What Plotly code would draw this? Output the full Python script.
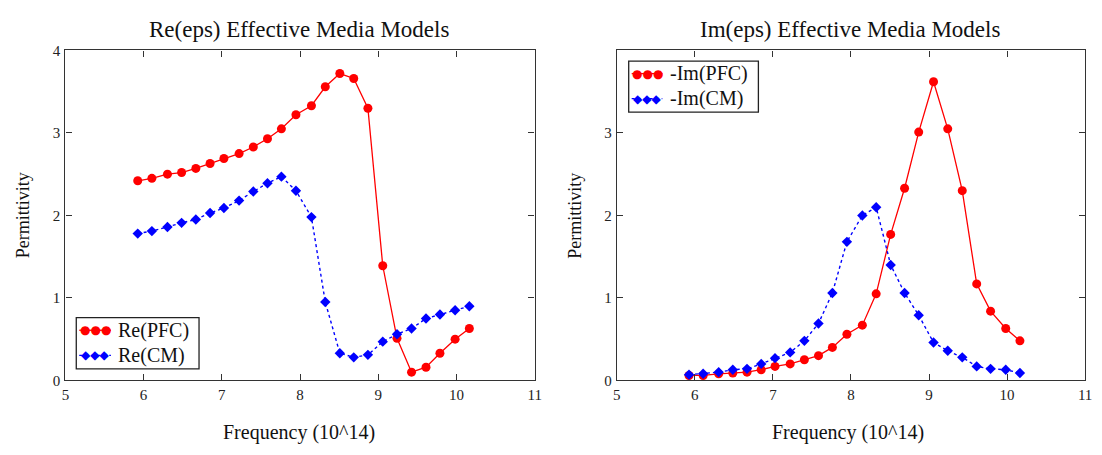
import plotly.graph_objects as go

# Frequency samples (units of 10^14)
freq = [5.925, 6.106, 6.305, 6.486, 6.668, 6.850, 7.027, 7.221, 7.403, 7.584,
        7.762, 7.948, 8.146, 8.323, 8.509, 8.687, 8.868, 9.058, 9.240, 9.426,
        9.611, 9.789, 9.983, 10.165]

# Real part of permittivity
re_pfc = [2.42, 2.45, 2.50, 2.52, 2.57, 2.63, 2.69, 2.75, 2.83, 2.93,
          3.05, 3.22, 3.33, 3.56, 3.72, 3.66, 3.30, 1.39, 0.51, 0.10,
          0.16, 0.33, 0.50, 0.63]
re_cm = [1.78, 1.81, 1.86, 1.91, 1.95, 2.03, 2.09, 2.18, 2.29, 2.39,
         2.47, 2.30, 1.98, 0.95, 0.33, 0.28, 0.31, 0.47, 0.56, 0.63,
         0.75, 0.80, 0.85, 0.90]

# Negative imaginary part of permittivity
im_pfc = [0.06, 0.06, 0.08, 0.09, 0.10, 0.13, 0.17, 0.20, 0.25, 0.30,
          0.40, 0.56, 0.67, 1.05, 1.77, 2.33, 3.01, 3.62, 3.05, 2.30,
          1.17, 0.84, 0.63, 0.48]
im_cm = [0.07, 0.08, 0.10, 0.13, 0.14, 0.20, 0.27, 0.34, 0.48, 0.69,
         1.06, 1.68, 2.00, 2.10, 1.40, 1.06, 0.79, 0.46, 0.36, 0.28,
         0.17, 0.14, 0.13, 0.09]

x_ticks = [5, 6, 7, 8, 9, 10, 11]
y_ticks_re = [0, 1, 2, 3, 4]
y_ticks_im = [0, 1, 2, 3]

titles = ["Re(eps) Effective Media Models", "Im(eps) Effective Media Models"]
x_title = "Frequency (10^14)"
y_title = "Permittivity"
legend_re = ["Re(PFC)", "Re(CM)"]
legend_im = ["-Im(PFC)", "-Im(CM)"]

W, H = 1102, 455
RED, BLUE = "#ff0000", "#0000ff"
SERIF = "Liberation Serif, Times New Roman, serif"


def px(x):
    return x / W


def py(y):
    return 1 - y / H


fig = go.Figure()

panels = [
    dict(xa="x", ya="y", pfc=re_pfc, cm=re_cm, names=legend_re),
    dict(xa="x2", ya="y2", pfc=im_pfc, cm=im_cm, names=legend_im),
]
for p in panels:
    fig.add_trace(go.Scatter(
        x=freq, y=p["pfc"], xaxis=p["xa"], yaxis=p["ya"], name=p["names"][0],
        mode="lines+markers", line=dict(color=RED, width=1.3),
        marker=dict(symbol="circle", size=9, color=RED), showlegend=False))
    fig.add_trace(go.Scatter(
        x=freq, y=p["cm"], xaxis=p["xa"], yaxis=p["ya"], name=p["names"][1],
        mode="lines+markers", line=dict(color=BLUE, width=1.4, dash="dot"),
        marker=dict(symbol="diamond", size=8, color=BLUE), showlegend=False))

# plot-area pixel boxes (left, right, top, bottom)
boxes = [(62, 536, 44, 386), (619, 1092, 44, 386)]

axis_common = dict(
    showline=True, linecolor="#333333", linewidth=1.3, mirror="ticks",
    ticks="inside", ticklen=6, tickwidth=1.2, tickcolor="#333333",
    showgrid=False, zeroline=False,
    tickfont=dict(family=SERIF, size=15, color="#222222"),
)

fig.update_layout(
    xaxis=dict(domain=[px(boxes[0][0]), px(boxes[0][1])], range=[5, 11],
               tickvals=x_ticks, anchor="y", **axis_common),
    yaxis=dict(domain=[py(boxes[0][3]), py(boxes[0][2])], range=[0, 4],
               tickvals=y_ticks_re, anchor="x", ticklabelstandoff=1, **axis_common),
    xaxis2=dict(domain=[px(boxes[1][0]), px(boxes[1][1])], range=[5, 11],
                tickvals=x_ticks, anchor="y2", **axis_common),
    yaxis2=dict(domain=[py(boxes[1][3]), py(boxes[1][2])], range=[0, 4],
                tickvals=y_ticks_im, anchor="x2", ticklabelstandoff=1, **axis_common),
)

annotations = []
shapes = []

# titles and axis titles
title_cx = [298, 855]
xt_cx = [298, 853]
yt_cx = [20, 577]
for i in range(2):
    annotations.append(dict(
        x=px(title_cx[i]), y=py(22), xref="paper", yref="paper",
        text=titles[i], showarrow=False, xanchor="center", yanchor="middle",
        font=dict(family=SERIF, size=23, color="#111111")))
    annotations.append(dict(
        x=px(xt_cx[i]), y=py(440), xref="paper", yref="paper",
        text=x_title, showarrow=False, xanchor="center", yanchor="middle",
        font=dict(family=SERIF, size=20, color="#111111")))
    annotations.append(dict(
        x=px(yt_cx[i]), y=py(215), xref="paper", yref="paper",
        text=y_title, showarrow=False, xanchor="center", yanchor="middle",
        textangle=-90, font=dict(family=SERIF, size=18, color="#111111")))

# legend boxes: (left, top, right, bottom), row centres, symbol x, text x
legends = [
    dict(box=(73, 321, 197, 374), rows=(334, 360), sx=(76, 108), tx=113, names=legend_re),
    dict(box=(631, 55, 762, 108), rows=(68, 94), sx=(634, 665), tx=671, names=legend_im),
]
for lg in legends:
    l, t, r, b = lg["box"]
    shapes.append(dict(type="rect", xref="paper", yref="paper",
                       x0=px(l), x1=px(r), y0=py(b), y1=py(t),
                       line=dict(color="#222222", width=1.3), fillcolor="white",
                       layer="above"))
    for k, (sym, col, dash) in enumerate([("●●●", RED, "solid"), ("◆◆◆", BLUE, "dot")]):
        yc = lg["rows"][k]
        shapes.append(dict(type="line", xref="paper", yref="paper",
                           x0=px(lg["sx"][0]), x1=px(lg["sx"][1]),
                           y0=py(yc), y1=py(yc),
                           line=dict(color=col, width=1.3, dash=dash), layer="above"))
        annotations.append(dict(
            x=px((lg["sx"][0] + lg["sx"][1]) / 2), y=py(yc), xref="paper", yref="paper",
            text=sym, showarrow=False, xanchor="center", yanchor="middle",
            font=dict(family="DejaVu Sans", size=12, color=col)))
        annotations.append(dict(
            x=px(lg["tx"]), y=py(yc), xref="paper", yref="paper",
            text=lg["names"][k], showarrow=False, xanchor="left", yanchor="middle",
            font=dict(family=SERIF, size=20, color="#111111")))

fig.update_layout(
    width=W, height=H, autosize=False,
    margin=dict(l=0, r=0, t=0, b=0),
    paper_bgcolor="white", plot_bgcolor="white",
    showlegend=False,
    annotations=annotations, shapes=shapes,
)

fig.write_html("out.html")
